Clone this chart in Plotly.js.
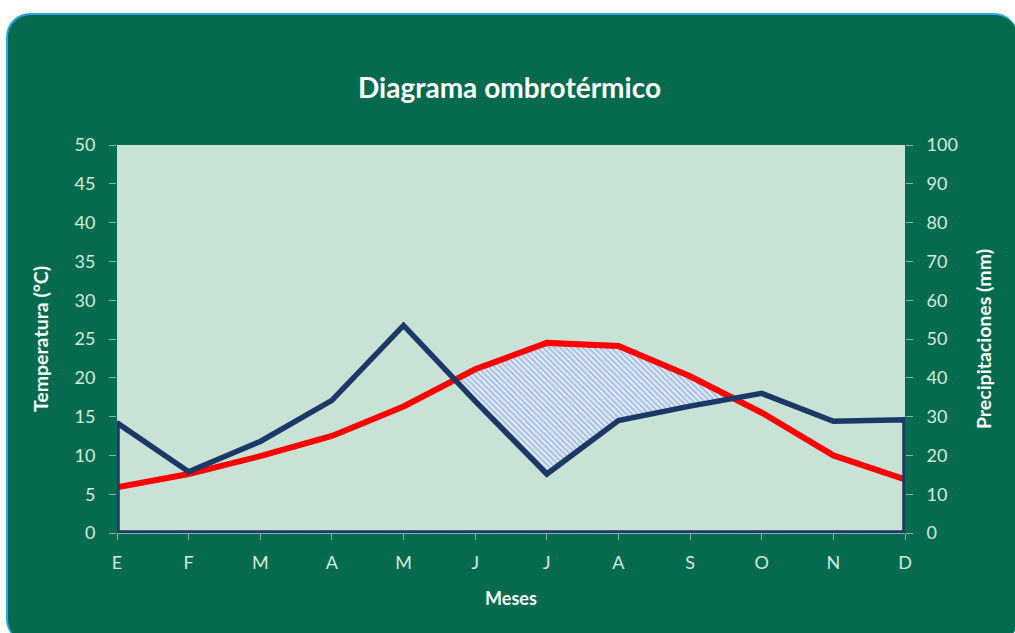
<!DOCTYPE html>
<html>
<head>
<meta charset="utf-8">
<script src="https://cdn.plot.ly/plotly-3.0.1.min.js"></script>
<style>
  html, body { margin:0; padding:0; background:#ffffff; width:1015px; height:633px; overflow:hidden; }
  #card { position:absolute; left:6px; top:13px; width:1012px; height:630px; background:#066b4e;
          border-radius:24px; border-top:2px solid #2ba6df; border-left:2px solid #2ba6df; box-sizing:border-box; }
  #chart { position:absolute; left:0; top:0; width:1015px; height:633px; }
</style>
</head>
<body>
<div id="card"></div>
<div id="chart"></div>
<script>
const months = ["E","F","M","A","M","J","J","A","S","O","N","D"];
const temperature = [5.9, 7.6, 9.9, 12.5, 16.3, 21.1, 24.5, 24.1, 20.2, 15.5, 10.0, 6.9];
const precipitation = [28.4, 15.8, 23.6, 34.2, 53.5, 34.0, 15.2, 29.0, 32.7, 36.0, 28.8, 29.2];

const idx = months.map((_, i) => i);
const last = idx.length - 1;

// precipitation on the temperature scale (P = 2T)
const pHalf = precipitation.map(v => v / 2);

// arid-period shading between temperature and P/2 where T > P/2
const sx = [], sLow = [], sUp = [];
for (let i = 0; i < idx.length; i++) {
  sx.push(i); sLow.push(pHalf[i]); sUp.push(Math.max(temperature[i], pHalf[i]));
  if (i < last) {
    const d0 = temperature[i] - pHalf[i], d1 = temperature[i + 1] - pHalf[i + 1];
    if (d0 * d1 < 0) {
      const t = d0 / (d0 - d1);
      const yc = pHalf[i] + t * (pHalf[i + 1] - pHalf[i]);
      sx.push(i + t); sLow.push(yc); sUp.push(yc);
    }
  }
}

// closed outline of the precipitation area
const px = [idx[0]].concat(idx, [idx[last], idx[0]]);
const py = [0].concat(precipitation, [0, 0]);

const tickFont = {family: "Lato, 'Open Sans', sans-serif", size: 18, color: "#d3ebdf"};
const titleFont = {family: "Lato, 'Open Sans', sans-serif", size: 19.5, color: "#ffffff", weight: "bold"};

const traces = [
  {x: sx, y: sLow, mode: "lines", line: {width: 0}, hoverinfo: "skip", showlegend: false},
  {x: sx, y: sUp, mode: "lines", line: {width: 0}, fill: "tonexty",
   fillcolor: "#a9c1e3",
   fillpattern: {shape: "\\", bgcolor: "#a9c1e3", fgcolor: "#eef4fb", size: 4, solidity: 0.4},
   hoverinfo: "skip", showlegend: false},
  {x: idx, y: temperature, mode: "lines", line: {color: "#ff0000", width: 6}, showlegend: false},
  {x: px, y: py, yaxis: "y2", mode: "lines", line: {color: "#1c3866", width: 5.5}, showlegend: false}
];

const layout = {
  width: 1015, height: 633,
  margin: {l: 117, r: 110, t: 145, b: 100},
  paper_bgcolor: "rgba(0,0,0,0)",
  plot_bgcolor: "#c8e2d6",
  showlegend: false,
  title: {text: "Diagrama ombrotérmico", x: 0.502, xanchor: "center", y: 0.86, yanchor: "middle",
          font: {family: "Lato, 'Open Sans', sans-serif", size: 28, color: "#ffffff", weight: "bold"}},
  xaxis: {range: [0, last], tickvals: idx, ticktext: months, showgrid: false, zeroline: false,
          showline: true, linecolor: "#8fb3a5", linewidth: 1,
          ticks: "outside", ticklen: 6, tickcolor: "#8fb3a5",
          tickfont: tickFont, ticklabelstandoff: 7,
          title: {text: "Meses", font: {family: "Lato, 'Open Sans', sans-serif", size: 18, color: "#ffffff", weight: "bold"}, standoff: 20}},
  yaxis: {range: [0, 50], dtick: 5, showgrid: false, zeroline: false,
          showline: false, ticks: "outside", ticklen: 7, tickcolor: "#8fb3a5",
          tickfont: tickFont, ticklabelstandoff: 10,
          title: {text: "Temperatura (°C)", font: titleFont, standoff: 20}},
  yaxis2: {range: [0, 100], dtick: 10, overlaying: "y", side: "right", showgrid: false, zeroline: false,
           showline: false, ticks: "outside", ticklen: 7, tickcolor: "#8fb3a5",
           tickfont: tickFont, ticklabelstandoff: 10,
           title: {text: "Precipitaciones (mm)", font: titleFont, standoff: 20}}
};

Plotly.newPlot("chart", traces, layout, {staticPlot: true, displayModeBar: false});
</script>
</body>
</html>
